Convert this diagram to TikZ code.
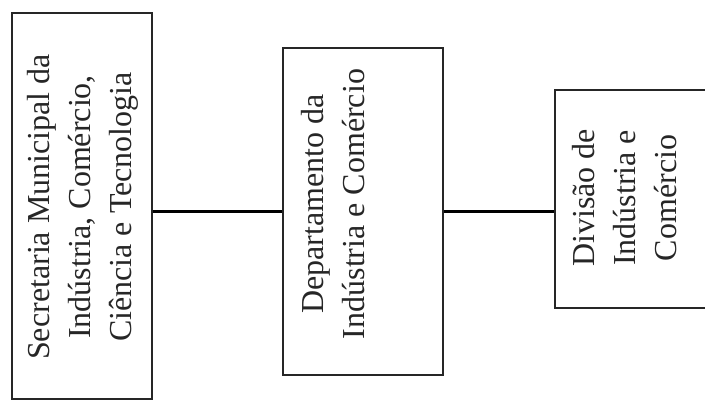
\documentclass[tikz,border=0pt]{standalone}
\usepackage{fontspec}
\setmainfont{Liberation Serif}
\usetikzlibrary{positioning}
\definecolor{scanink}{rgb}{0.15, 0.15, 0.15}

\begin{document}
\begin{tikzpicture}[x=0.5pt,y=-0.5pt,
  orgbox/.style={draw=scanink,line width=1.1pt,inner sep=0pt},
  orgtext/.style={rotate=90,align=center,inner sep=0pt,text=scanink,
    font=\fontsize{16}{20.5}\selectfont},
  orgline/.style={draw=black,line width=1.8pt}]
\useasboundingbox (0,0) rectangle (705,402);
\clip (0,0) rectangle (705,402);
\node[orgbox,minimum width=70pt,minimum height=193pt] (sec) at (82,206) {};
\node[orgbox,minimum width=80pt,minimum height=163.5pt] (dep) at (363,211.5) {};
\node[orgbox,minimum width=85pt,minimum height=109pt] (div) at (640,199) {};
\node[orgtext] (sectext) at (83,207) {Secretaria Municipal da\\Indústria, Comércio,\\Ciência e Tecnologia};
\node[orgtext] (deptext) at (333,204) {Departamento da\\Indústria e Comércio};
\node[orgtext] (divtext) at (625,198) {Divisão de\\Indústria e\\Comércio};
\draw[orgline] (sec.east |- dep.west) -- (dep.west);
\draw[orgline] (dep.east) -- (div.west |- dep.east);
\end{tikzpicture}
\end{document}
